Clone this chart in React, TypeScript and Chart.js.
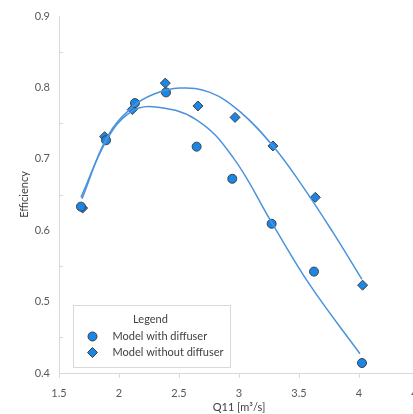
import React, { useEffect, useRef } from "react";
import { Chart, registerables } from "chart.js";

Chart.register(...registerables);

const withDiffuserX = [1.683, 1.892, 2.133, 2.392, 2.647, 2.944, 3.272, 3.625, 4.025];
const withDiffuserY = [0.633, 0.726, 0.778, 0.793, 0.717, 0.672, 0.609, 0.542, 0.414];
const withoutDiffuserX = [1.697, 1.88, 2.111, 2.386, 2.658, 2.967, 3.283, 3.636, 4.03];
const withoutDiffuserY = [0.631, 0.731, 0.769, 0.806, 0.774, 0.758, 0.718, 0.646, 0.523];

const trendWithX = [1.683, 1.9, 2.092, 2.283, 2.642, 2.95, 3.275, 3.592, 4.008];
const trendWithY = [0.646, 0.727, 0.765, 0.773, 0.755, 0.702, 0.61, 0.523, 0.427];
const trendWithoutX = [1.692, 1.9, 2.108, 2.283, 2.508, 2.758, 3.008, 3.283, 3.508, 3.783, 4.025];
const trendWithoutY = [0.644, 0.73, 0.772, 0.79, 0.799, 0.793, 0.766, 0.718, 0.667, 0.597, 0.531];

const xTickLabels: Record<string, string> = { "1.5": "1.5", "2": "2", "2.5": "2.5", "3": "3", "3.5": "3.5", "4": "4", "4.5": "4.5" };
const yTickLabels: Record<string, string> = { "0.4": "0.4", "0.5": "0.5", "0.6": "0.6", "0.7": "0.7", "0.8": "0.8", "0.9": "0.9" };

const seriesLabels = ["Model with diffuser", "Model without diffuser"];
const legendTitle = "Legend";
const xTitle = "Q11 [m³/s]";
const yTitle = "Efficiency";

const FONT = "Lato";
const MARKER_FILL = "#1a86e8";
const MARKER_BORDER = "#404040";
const LINE_COLOR = "#4a93dc";

const zip = (xs: number[], ys: number[]) => xs.map((x, i) => ({ x, y: ys[i] }));
const key = (v: number) => String(Math.round(v * 10) / 10);

const overlayPlugin = {
  id: "overlay",
  afterDraw(chart: any) {
    const ctx = chart.ctx;
    const area = chart.chartArea;
    const ys = chart.scales.y;
    ctx.save();
    ctx.strokeStyle = "#d9d9d9";
    ctx.lineWidth = 1;
    const ticks = ys.ticks.map((t: any) => t.value);
    for (let i = 0; i < ticks.length - 1; i++) {
      const v = (ticks[i] + ticks[i + 1]) / 2;
      const py = Math.round(ys.getPixelForValue(v)) + 0.5;
      ctx.beginPath();
      ctx.moveTo(area.left, py);
      ctx.lineTo(area.left + 4, py);
      ctx.stroke();
    }
    const bx = area.left + 14.5;
    const by = area.bottom - 67.5;
    const bw = 157;
    const bh = 62;
    ctx.fillStyle = "#ffffff";
    ctx.fillRect(bx, by, bw, bh);
    ctx.strokeStyle = "#d9d9d9";
    ctx.strokeRect(bx, by, bw, bh);
    ctx.fillStyle = "#404040";
    ctx.font = `11px ${FONT}`;
    ctx.textAlign = "center";
    ctx.textBaseline = "middle";
    ctx.fillText(legendTitle, bx + 77, by + 14);
    ctx.textAlign = "left";
    const rows = [by + 31, by + 47];
    ctx.fillText(seriesLabels[0], bx + 39, rows[0]);
    ctx.fillText(seriesLabels[1], bx + 39, rows[1]);
    ctx.fillStyle = MARKER_FILL;
    ctx.strokeStyle = MARKER_BORDER;
    const mx = bx + 19;
    ctx.beginPath();
    ctx.arc(mx, rows[0], 4.5, 0, Math.PI * 2);
    ctx.fill();
    ctx.stroke();
    ctx.beginPath();
    ctx.moveTo(mx, rows[1] - 5);
    ctx.lineTo(mx + 5, rows[1]);
    ctx.lineTo(mx, rows[1] + 5);
    ctx.lineTo(mx - 5, rows[1]);
    ctx.closePath();
    ctx.fill();
    ctx.stroke();
    ctx.restore();
  },
};

export default function App() {
  const ref = useRef<HTMLCanvasElement>(null);
  useEffect(() => {
    if (!ref.current) return;
    const chart = new Chart(ref.current, {
      type: "scatter",
      data: {
        datasets: [
          {
            label: "trend1",
            data: zip(trendWithX, trendWithY),
            showLine: true,
            borderColor: LINE_COLOR,
            borderWidth: 1.5,
            pointRadius: 0,
            tension: 0.4,
            order: 0,
          } as any,
          {
            label: "trend2",
            data: zip(trendWithoutX, trendWithoutY),
            showLine: true,
            borderColor: LINE_COLOR,
            borderWidth: 1.5,
            pointRadius: 0,
            tension: 0.4,
            order: 0,
          } as any,
          {
            label: seriesLabels[0],
            data: zip(withDiffuserX, withDiffuserY),
            pointStyle: "circle",
            pointRadius: 4.5,
            backgroundColor: MARKER_FILL,
            borderColor: MARKER_BORDER,
            borderWidth: 1,
            order: 1,
          },
          {
            label: seriesLabels[1],
            data: zip(withoutDiffuserX, withoutDiffuserY),
            pointStyle: "rectRot",
            pointRadius: 5,
            backgroundColor: MARKER_FILL,
            borderColor: MARKER_BORDER,
            borderWidth: 1,
            order: 1,
          },
        ],
      },
      options: {
        responsive: false,
        animation: false,
        layout: { padding: { top: 16, right: 21, left: 0, bottom: 0 } },
        plugins: { legend: { display: false }, tooltip: { enabled: false } },
        scales: {
          x: {
            type: "linear",
            min: 1.5,
            max: 4.5,
            ticks: {
              stepSize: 0.5,
              color: "#595959",
              font: { family: FONT, size: 11 },
              padding: 9,
              callback: (v: any) => xTickLabels[key(Number(v))] ?? "",
            },
            grid: { drawOnChartArea: false, drawTicks: true, tickLength: 5, color: "#d9d9d9" },
            border: { display: true, color: "#d9d9d9", width: 1 },
            title: { display: true, text: xTitle, color: "#404040", font: { family: FONT, size: 11 }, padding: 0 },
            afterFit: (s: any) => {
              s.height = 41;
            },
          },
          y: {
            type: "linear",
            min: 0.4,
            max: 0.9,
            ticks: {
              stepSize: 0.1,
              color: "#595959",
              font: { family: FONT, size: 11 },
              padding: 9,
              callback: (v: any) => yTickLabels[key(Number(v))] ?? "",
            },
            grid: { drawOnChartArea: false, drawTicks: false },
            border: { display: true, color: "#d9d9d9", width: 1 },
            title: { display: true, text: yTitle, color: "#404040", font: { family: FONT, size: 11 }, padding: { top: 18, bottom: 0 } },
            afterFit: (s: any) => {
              s.width = 59;
            },
          },
        },
      },
      plugins: [overlayPlugin],
    });
    return () => chart.destroy();
  }, []);
  return (
    <div style={{ position: "fixed", left: 0, top: 0, width: 413, height: 414, overflow: "hidden", background: "#fff" }}>
      <canvas ref={ref} width={440} height={414} style={{ width: 440, height: 414, display: "block" }} />
    </div>
  );
}
